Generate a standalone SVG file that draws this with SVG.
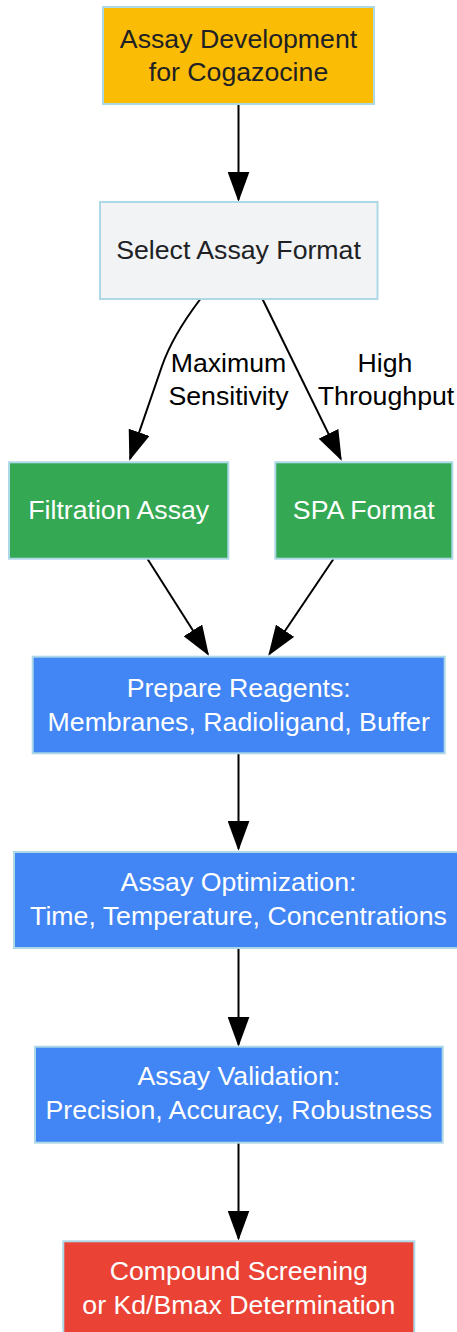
<svg xmlns="http://www.w3.org/2000/svg" width="457" height="1332" viewBox="0 0 457 1332">
<style>
.box{stroke:#ADD8E6;stroke-width:2}
.t{font-family:"Liberation Sans",Arial,sans-serif;font-size:26.7px;text-anchor:middle}
.dark{fill:#202124}
.light{fill:#ffffff}
.lbl{font-family:"Liberation Sans",Arial,sans-serif;font-size:26.7px;text-anchor:middle;fill:#000000}
.edge{fill:none;stroke:#000000;stroke-width:2}
</style>
<defs>
<marker id="arr" viewBox="0 0 30 22" refX="28" refY="11" markerWidth="30" markerHeight="22" markerUnits="userSpaceOnUse" orient="auto">
<path d="M0,0 L30,11 L0,22 Z" fill="#000000"/>
</marker>
</defs>
<g id="connectors">
<path class="edge" marker-end="url(#arr)" d="M238.5,104 L238.5,199.7"/>
<path class="edge" marker-end="url(#arr)" d="M200,299.5 C186,318 171,340 162,366 L130,458.8"/>
<path class="edge" marker-end="url(#arr)" d="M262.7,299.5 L340.8,458.9"/>
<path class="edge" marker-end="url(#arr)" d="M147.7,559.3 L207.9,654"/>
<path class="edge" marker-end="url(#arr)" d="M333.3,559.3 L269.4,654"/>
<path class="edge" marker-end="url(#arr)" d="M238.5,753.5 L238.5,848.7"/>
<path class="edge" marker-end="url(#arr)" d="M238.5,948.5 L238.5,1044.7"/>
<path class="edge" marker-end="url(#arr)" d="M238.5,1143 L238.5,1238.5"/>
<text class="lbl" x="228.5" y="371.5">Maximum</text>
<text class="lbl" x="228.5" y="405">Sensitivity</text>
<text class="lbl" x="385" y="371.5">High</text>
<text class="lbl" x="386" y="405">Throughput</text>
</g>
<g id="n1">
<rect class="box" x="103" y="7" width="271" height="97" fill="#FBBC05"/>
<text class="t dark" x="238.5" y="47.5">Assay Development</text>
<text class="t dark" x="238.5" y="81">for Cogazocine</text>
</g>
<g id="n2">
<rect class="box" x="100" y="202" width="277.5" height="97" fill="#F1F3F4"/>
<text class="t dark" x="238.5" y="259.3">Select Assay Format</text>
</g>
<g id="n3">
<rect class="box" x="9" y="462.3" width="219.3" height="96.4" fill="#34A853"/>
<text class="t light" x="118.7" y="519">Filtration Assay</text>
</g>
<g id="n4">
<rect class="box" x="275.3" y="462.3" width="177" height="96.4" fill="#34A853"/>
<text class="t light" x="363.8" y="519">SPA Format</text>
</g>
<g id="n5">
<rect class="box" x="32.7" y="656.7" width="412" height="96.6" fill="#4285F4"/>
<text class="t light" x="238.7" y="696.7">Prepare Reagents:</text>
<text class="t light" x="238.7" y="730.7">Membranes, Radioligand, Buffer</text>
</g>
<g id="n6">
<rect class="box" x="14" y="852" width="449" height="96" fill="#4285F4"/>
<text class="t light" x="238.5" y="890.7">Assay Optimization:</text>
<text class="t light" x="238.5" y="925">Time, Temperature, Concentrations</text>
</g>
<g id="n7">
<rect class="box" x="35" y="1046.7" width="407.7" height="96" fill="#4285F4"/>
<text class="t light" x="238.8" y="1085">Assay Validation:</text>
<text class="t light" x="238.8" y="1119.3">Precision, Accuracy, Robustness</text>
</g>
<g id="n8">
<rect class="box" x="63.3" y="1241.3" width="351" height="97" fill="#EA4335"/>
<text class="t light" x="238.8" y="1280">Compound Screening</text>
<text class="t light" x="238.8" y="1314.3">or Kd/Bmax Determination</text>
</g>
</svg>
